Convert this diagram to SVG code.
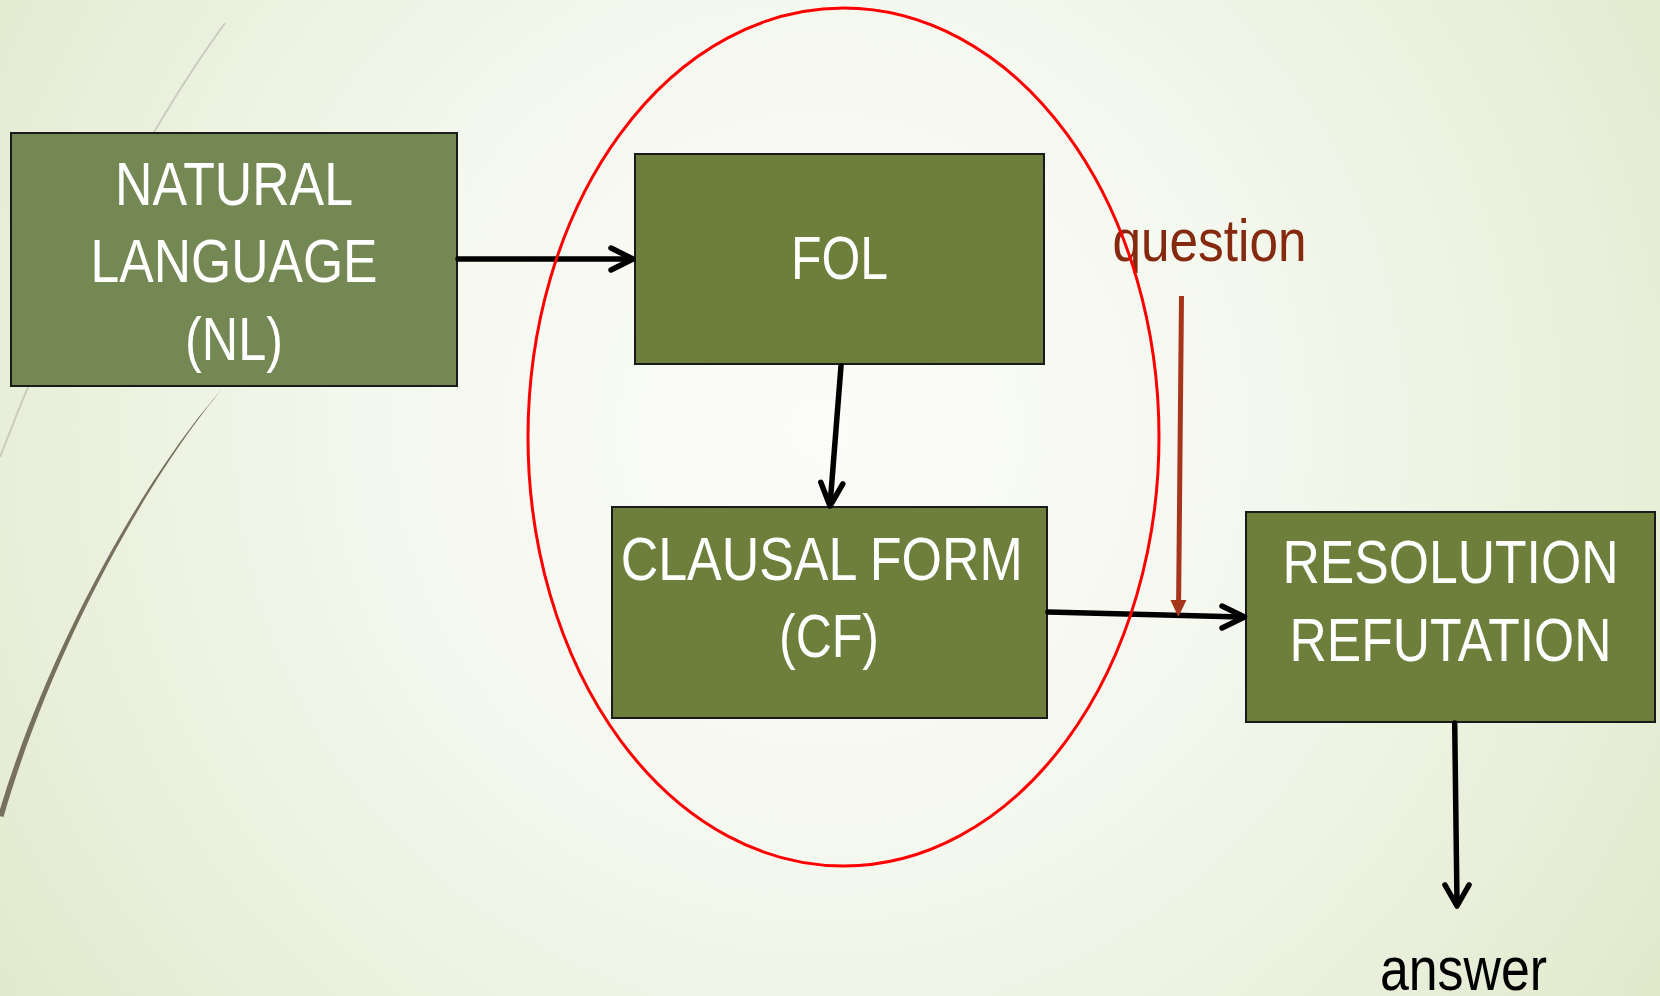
<svg xmlns="http://www.w3.org/2000/svg" width="1660" height="996" viewBox="0 0 1660 996">
  <defs>
    <radialGradient id="bg" cx="820" cy="430" r="1050" gradientUnits="userSpaceOnUse">
      <stop offset="0" stop-color="#fbfcf9"/>
      <stop offset="0.4" stop-color="#f5f8ef"/>
      <stop offset="0.75" stop-color="#e9efdb"/>
      <stop offset="1" stop-color="#dfe8c8"/>
    </radialGradient>
    <style>
      .box { stroke: #1a1a1a; stroke-width: 2; }
      .lbl { font-family: "Liberation Sans Narrow", "Liberation Sans", Arial, sans-serif; font-size: 62px; fill: #ffffff; text-anchor: middle; }
      .conn { stroke: #000000; stroke-width: 5.5; fill: none; stroke-linecap: round; stroke-linejoin: round; }
    </style>
  </defs>

  <rect x="0" y="0" width="1660" height="996" fill="url(#bg)"/>

  <!-- decorative curves -->
  <path d="M 225 23 C 140 140, 60 300, 0 457" fill="none" stroke="#cbcbbd" stroke-width="2"/>
  <path d="M 223 388 C 150 470, 50 640, -2 816 L 3.5 817 C 54 642, 152 472, 223 388 Z" fill="#77705c"/>

  <g id="node-nl">
    <rect class="box" x="11" y="133" width="446" height="253" fill="#748853" stroke-width="2.5"/>
    <text class="lbl" x="234" y="205" textLength="238" lengthAdjust="spacingAndGlyphs">NATURAL</text>
    <text class="lbl" x="234" y="282" textLength="287" lengthAdjust="spacingAndGlyphs">LANGUAGE</text>
    <text class="lbl" x="234" y="360" textLength="98" lengthAdjust="spacingAndGlyphs">(NL)</text>
  </g>

  <g id="node-fol">
    <rect class="box" x="635" y="154" width="409" height="210" fill="#6e7f3c"/>
    <text class="lbl" x="839.5" y="279" textLength="97" lengthAdjust="spacingAndGlyphs">FOL</text>
  </g>

  <g id="node-cf">
    <rect class="box" x="612" y="507" width="435" height="211" fill="#6e7f3c"/>
    <text class="lbl" x="821.7" y="580" textLength="402" lengthAdjust="spacingAndGlyphs">CLAUSAL FORM</text>
    <text class="lbl" x="829" y="657" textLength="100" lengthAdjust="spacingAndGlyphs">(CF)</text>
  </g>

  <g id="node-rr">
    <rect class="box" x="1246" y="512" width="409" height="210" fill="#6e7f3c"/>
    <text class="lbl" x="1450.5" y="583" textLength="336" lengthAdjust="spacingAndGlyphs">RESOLUTION</text>
    <text class="lbl" x="1450.5" y="661" textLength="322" lengthAdjust="spacingAndGlyphs">REFUTATION</text>
  </g>

  <g id="label-question">
    <text x="1209.5" y="261" font-family="Liberation Sans Narrow, Liberation Sans, Arial, sans-serif" font-size="60" fill="#85290f" text-anchor="middle" textLength="194" lengthAdjust="spacingAndGlyphs">question</text>
  </g>

  <g id="label-answer">
    <text x="1463.5" y="990" font-family="Liberation Sans Narrow, Liberation Sans, Arial, sans-serif" font-size="62" fill="#000000" text-anchor="middle" textLength="167" lengthAdjust="spacingAndGlyphs">answer</text>
  </g>

  <g id="connectors">
    <line class="conn" x1="458" y1="259" x2="631" y2="259"/>
    <polyline class="conn" points="611,248 633,259 611,270"/>

    <line class="conn" x1="841" y1="366" x2="830.2" y2="503"/>
    <polyline class="conn" points="820.8,482.3 830,506 842.8,483.9"/>

    <line class="conn" x1="1048" y1="612" x2="1242" y2="617"/>
    <polyline class="conn" points="1222,606 1244.5,617 1222,628"/>

    <line class="conn" x1="1454.7" y1="723" x2="1457" y2="903"/>
    <polyline class="conn" points="1445,885 1457,906 1469,885"/>

    <line x1="1181.5" y1="296" x2="1178.6" y2="602" stroke="#a5361b" stroke-width="5"/>
    <polygon points="1170.5,600 1186.5,600 1178.3,617" fill="#a5361b"/>
  </g>

  <g id="highlight-ellipse">
    <ellipse cx="843.5" cy="437" rx="315.5" ry="429" fill="none" stroke="#ff0000" stroke-width="3"/>
  </g>
</svg>
